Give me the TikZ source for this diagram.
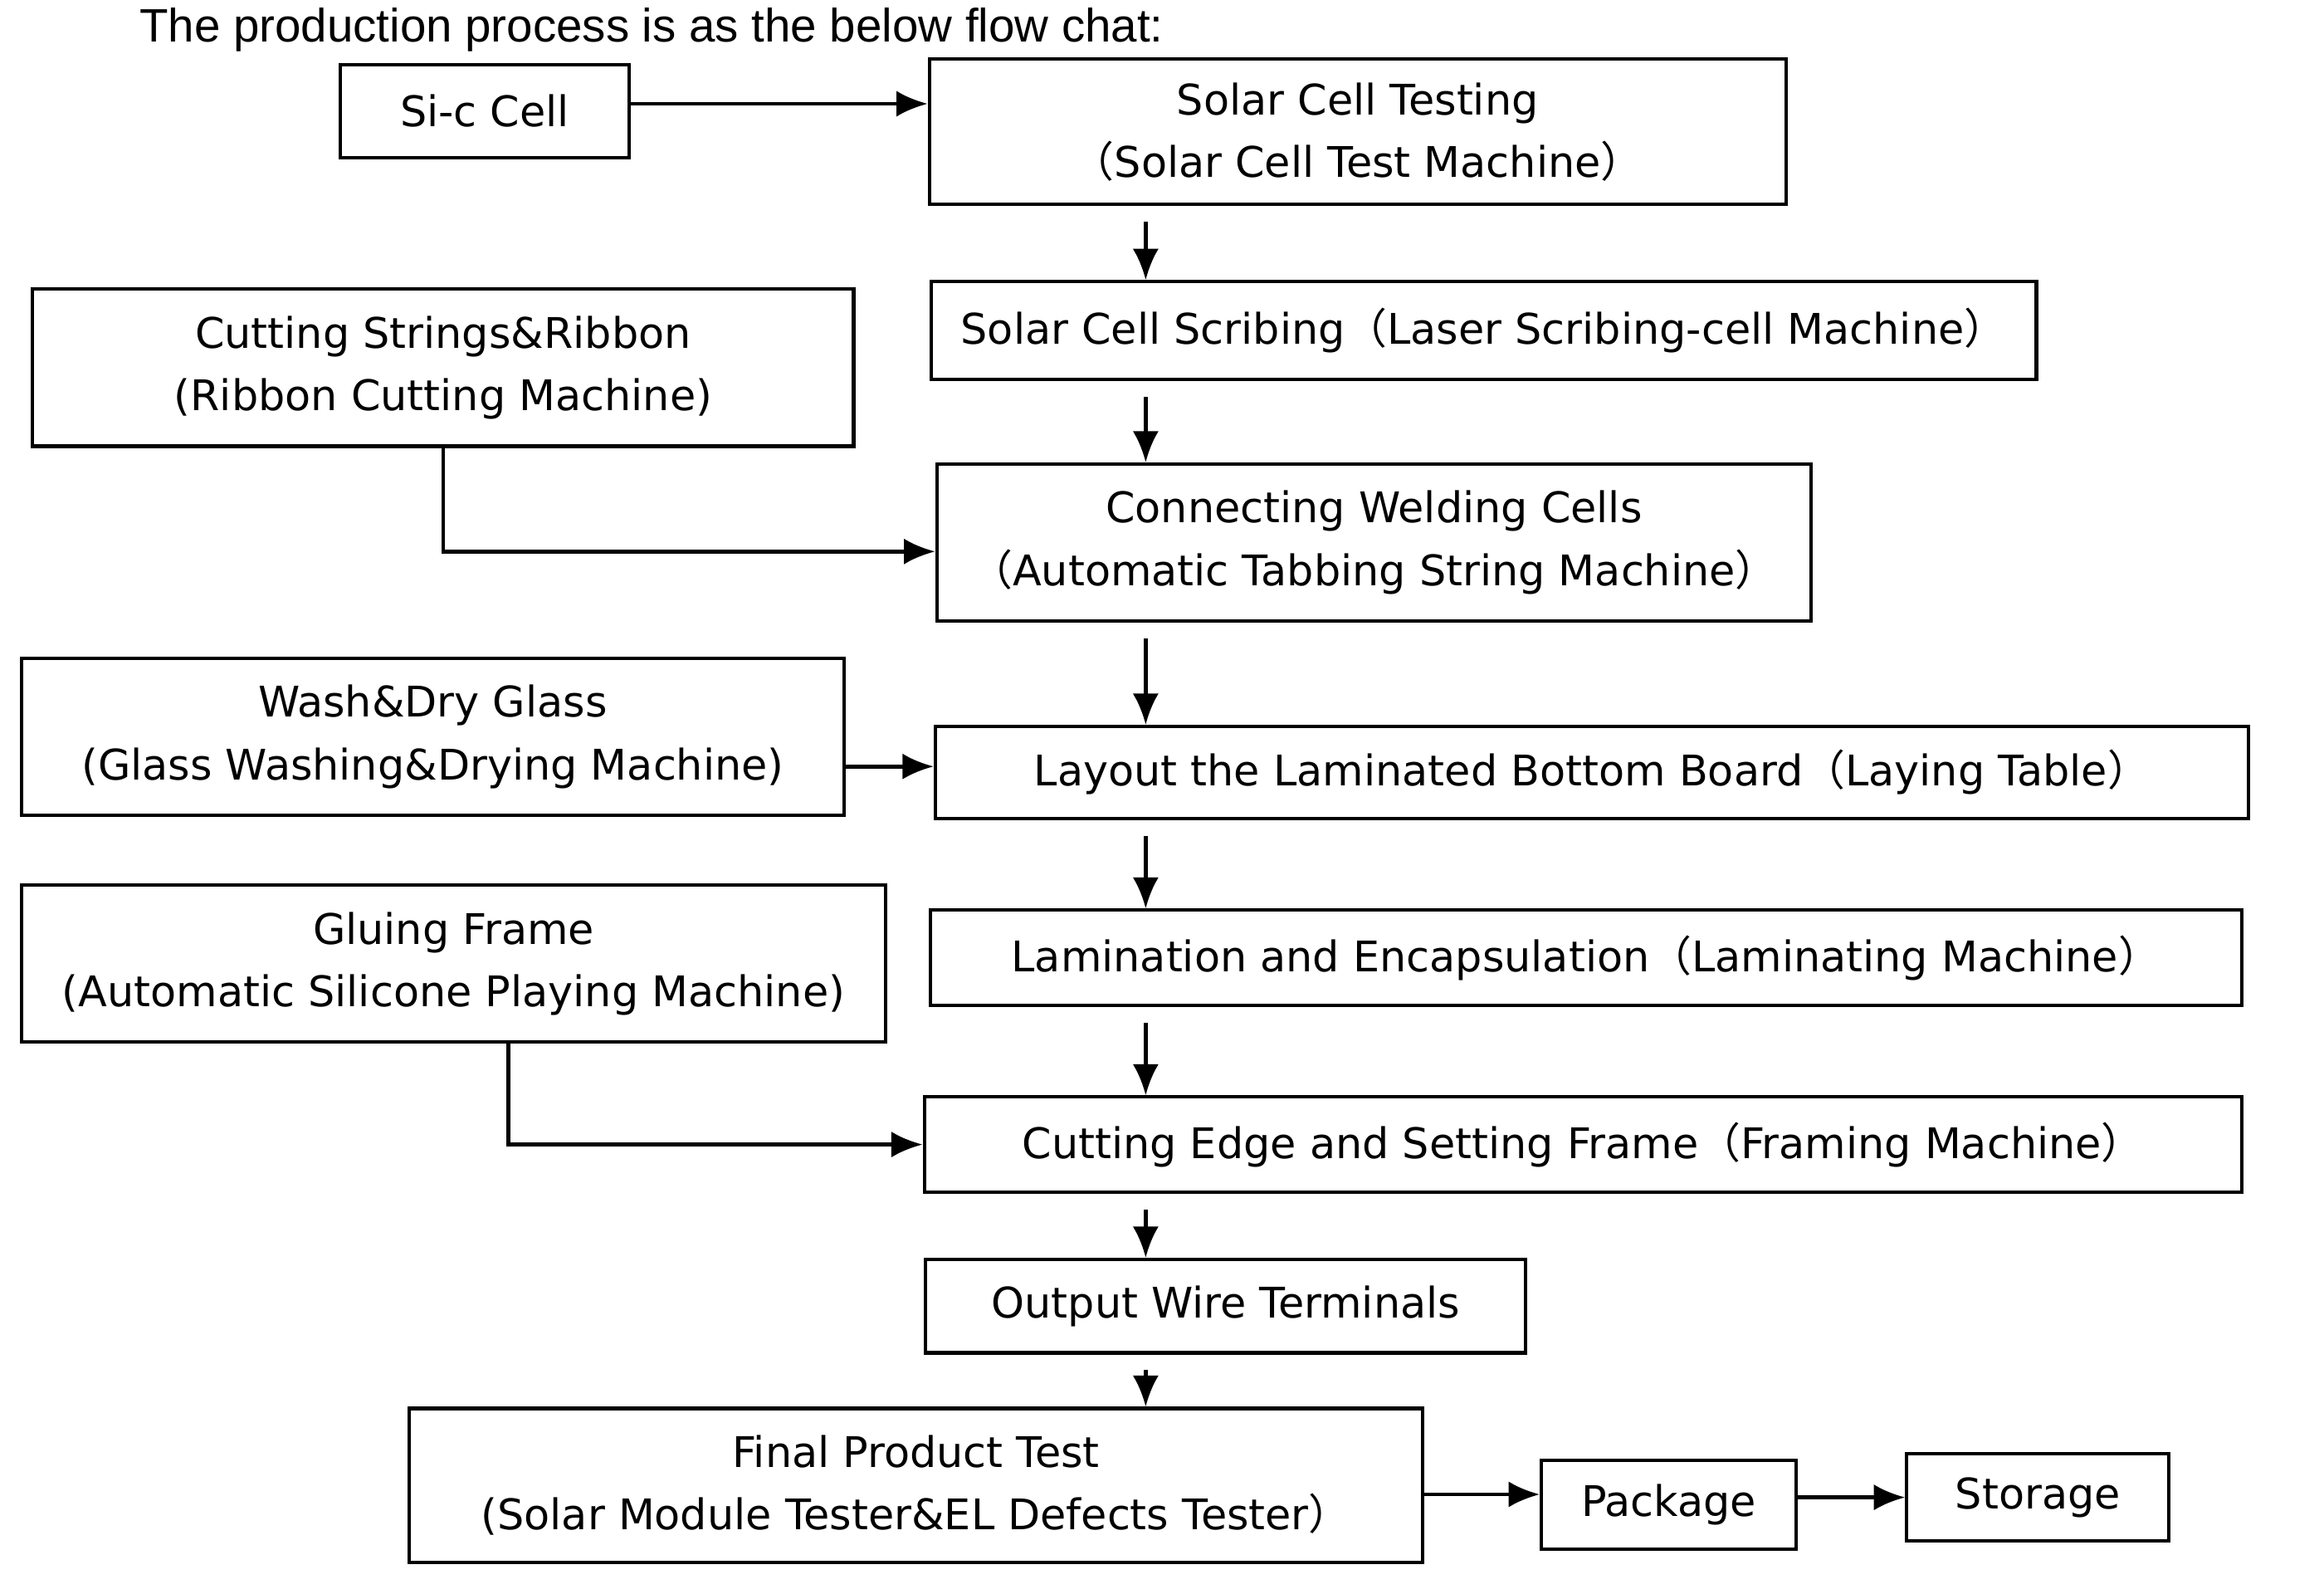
\documentclass[tikz,border=0pt]{standalone}
\usepackage{fontspec}
\setmainfont{DejaVu Sans}
\newfontfamily\titlefont{Liberation Sans}
\newfontfamily\cjk{Noto Sans CJK SC}
\usetikzlibrary{arrows.meta,positioning}
\newcommand{\lp}{{\cjk （}}
\newcommand{\rp}{{\cjk ）}}
\begin{document}
\begin{tikzpicture}[x=0.02cm, y=-0.02cm,
  box/.style = {draw, line width=1.3pt, align=center, inner sep=0pt,
    font=\fontsize{16.2}{24}\selectfont},
  flow/.style = {line width=1.5pt, -{Latex[length=12pt, width=10pt]}}]
\useasboundingbox (0,0) rectangle (1568,1075);
\node [anchor=west, font=\titlefont\fontsize{18}{20}\selectfont] (title) at (88,20) {The production process is as the below flow chat:};
% main column
\node [box, minimum width=3.9cm, minimum height=1.26cm] (sic) at (327,75) {Si-c Cell};
\node [box, minimum width=11.56cm, minimum height=1.96cm] (test) at (916,89) {Solar Cell Testing\\\lp Solar Cell Test Machine\rp};
\node [box, minimum width=14.92cm, minimum height=1.32cm] (scrib) at (1001,223) {Solar Cell Scribing\lp Laser Scribing-cell Machine\rp};
\node [box, minimum width=11.8cm, minimum height=2.12cm] (weld) at (927,366) {Connecting Welding Cells\\\lp Automatic Tabbing String Machine\rp};
\node [box, minimum width=17.72cm, minimum height=1.24cm] (layout) at (1074,521) {Layout the Laminated Bottom Board\lp Laying Table\rp};
\node [box, minimum width=17.7cm, minimum height=1.28cm] (lamin) at (1070,646) {Lamination and Encapsulation\lp Laminating Machine\rp};
\node [box, minimum width=17.78cm, minimum height=1.28cm] (frame) at (1068,772) {Cutting Edge and Setting Frame\lp Framing Machine\rp};
\node [box, minimum width=8.1cm, minimum height=1.26cm] (wire) at (827,881) {Output Wire Terminals};
\node [box, minimum width=13.68cm, minimum height=2.08cm] (final) at (618,1002) {Final Product Test\\(Solar Module Tester\&EL Defects Tester\rp};
\node [box, minimum width=3.44cm, minimum height=1.2cm] (pack) at (1126,1015) {Package};
\node [box, minimum width=3.54cm, minimum height=1.18cm] (store) at (1375,1010) {Storage};
% side inputs
\node [box, minimum width=11.08cm, minimum height=2.12cm] (ribbon) at (299,248) {Cutting Strings\&Ribbon\\(Ribbon Cutting Machine)};
\node [box, minimum width=11.1cm, minimum height=2.12cm] (glass) at (292,497) {Wash\&Dry Glass\\(Glass Washing\&Drying Machine)};
\node [box, minimum width=11.66cm, minimum height=2.12cm] (glue) at (306,650) {Gluing Frame\\(Automatic Silicone Playing Machine)};
\coordinate (spine) at (773,0);
% connectors
\draw [flow] (sic.east |- 0,70) -- (test.west |- 0,70);
\foreach \a/\b in {test/scrib, scrib/weld, weld/layout, layout/lamin, lamin/frame, frame/wire, wire/final}
  \draw [flow] ([yshift=-6pt]\a.south -| spine) -- (\b.north -| spine);
\draw [flow] (ribbon.south) |- (weld.west |- 0,372);
\draw [flow] (glass.east |- 0,517) -- (layout.west |- 0,517);
\draw [flow] (glue.south -| 343,0) |- (frame.west);
\draw [flow] (final.east |- 0,1008) -- (pack.west |- 0,1008);
\draw [flow] (pack.east |- 0,1010) -- (store.west |- 0,1010);
\end{tikzpicture}
\end{document}
